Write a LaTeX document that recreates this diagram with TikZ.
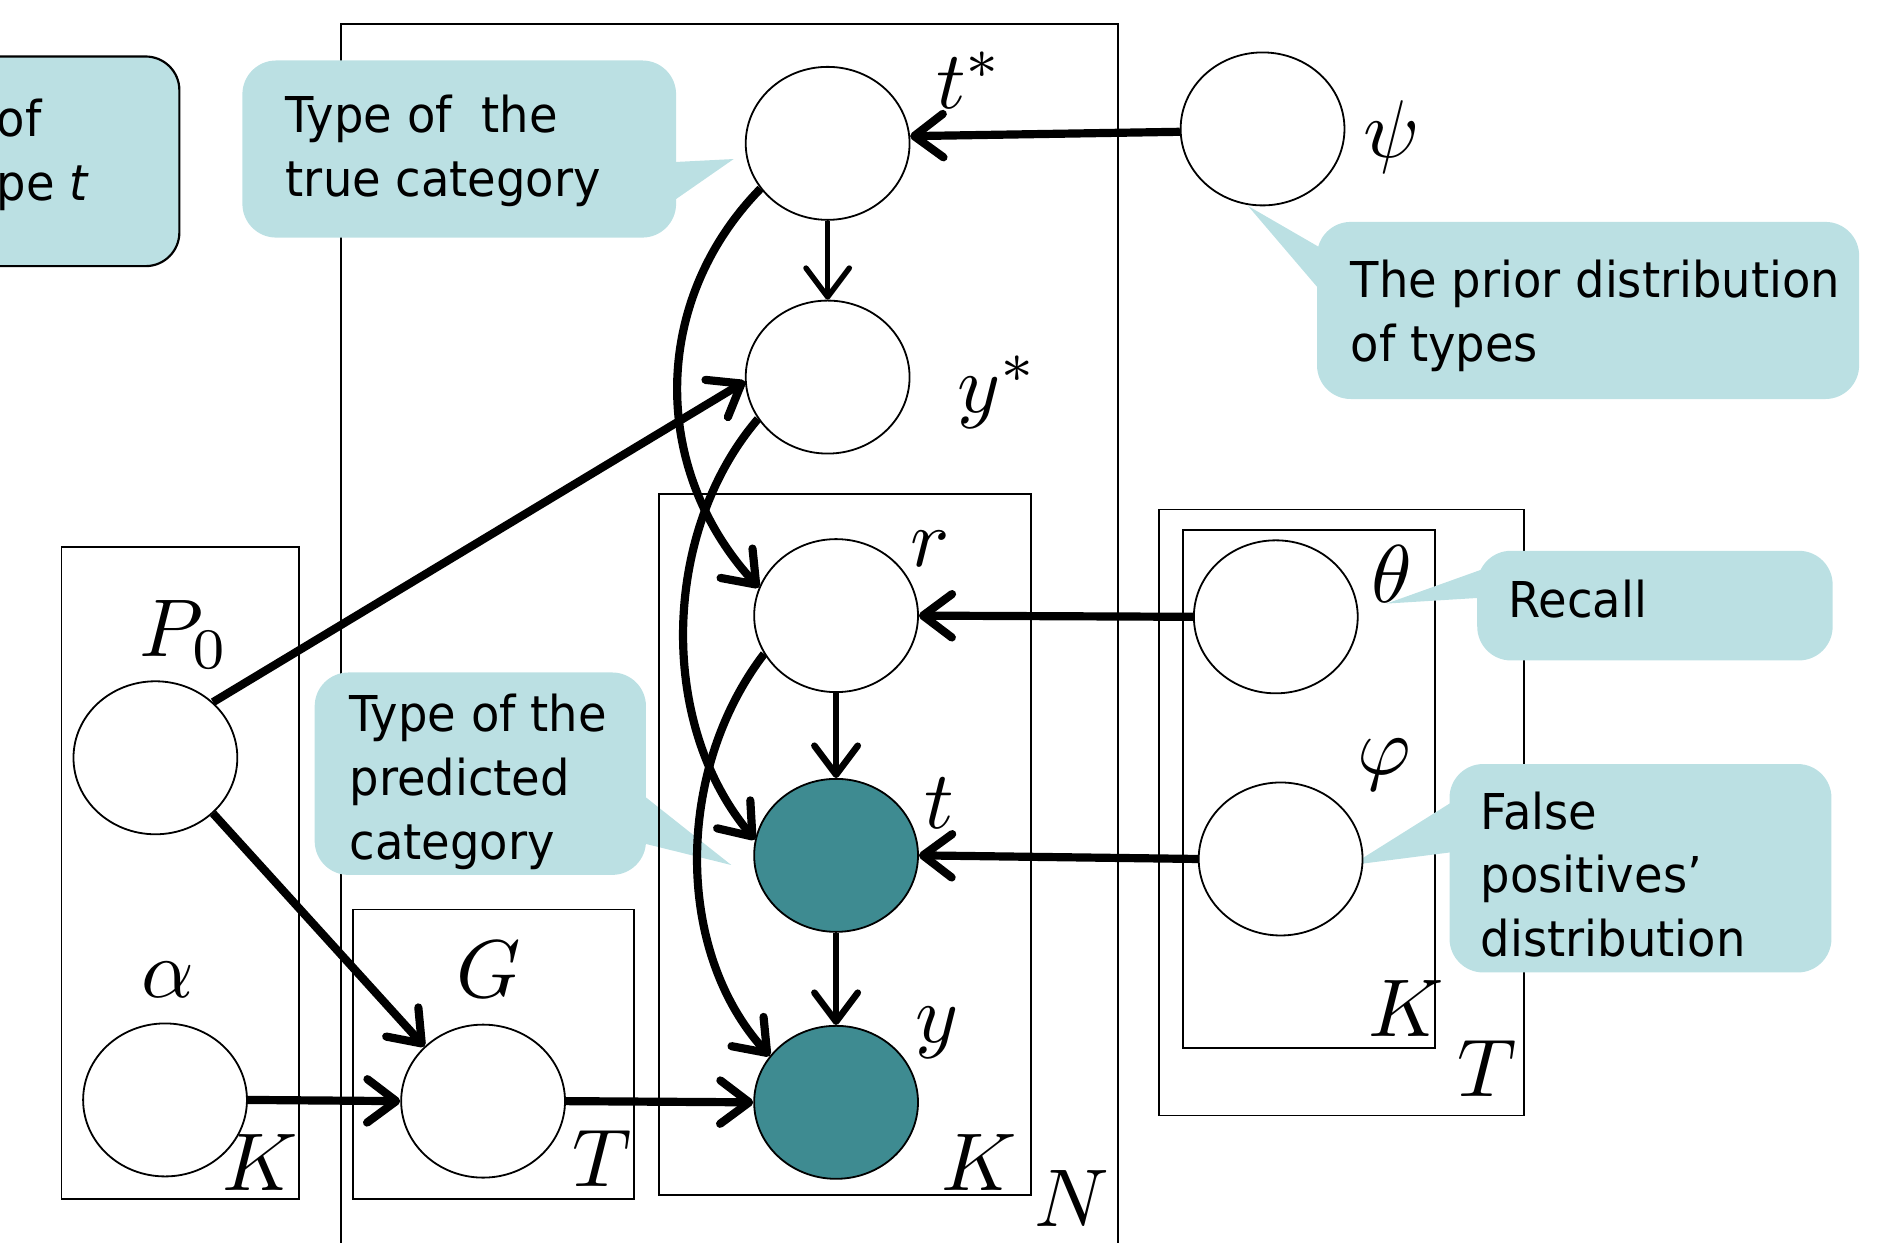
\documentclass[tikz,border=0pt]{standalone}
\usepackage{fontspec}
\setmainfont[FakeStretch=0.94]{DejaVu Sans}
\usetikzlibrary{shapes.geometric,arrows.meta}
\definecolor{callfill}{HTML}{BBE0E3}
\definecolor{obsfill}{HTML}{3E8B91}
\begin{document}
\begin{tikzpicture}[x=1pt,y=-1pt,
  var/.style={ellipse, draw, line width=1.5pt, fill=white,
    minimum width=136pt, minimum height=127pt, inner sep=0pt},
  obs/.style={var, fill=obsfill},
  plate/.style={draw, line width=1.4pt},
  lbl/.style={anchor=base, inner sep=0pt, scale=6.8},
  arr/.style={line width=6.8pt, -{Straight Barb[round,length=24pt,width=36pt]}},
  box/.style={fill=callfill, rounded corners=28pt, inner sep=0pt, anchor=north west},
  ctext/.style={anchor=north west, inner sep=0pt, align=left,
    font=\fontsize{41}{53}\selectfont}]
\clip (0,0) rectangle (1568,1031);

% plates
\draw[plate] (283,20) rectangle (928,1060);
\draw[plate] (51,454) rectangle (248,995);
\draw[plate] (293,755) rectangle (526,995);
\draw[plate] (962,423) rectangle (1265,926);
\draw[plate] (982,440) rectangle (1191,870);

% callouts
\node[box, draw, line width=1.8pt, minimum width=200pt, minimum height=174pt] (cOld) at (-52,46) {};
\node[ctext] (tOld) at (-3,75.9) {\strut of\\\strut pe \textit{t}};

\fill[callfill] (550,135) -- (609,132) -- (550,173) -- cycle;
\node[box, minimum width=360pt, minimum height=147pt] (cTrue) at (201,50) {};
\node[ctext] (tTrue) at (237,72.9) {\strut Type of\ \ the\\\strut true category};

\fill[callfill] (1100,208) -- (1036,171) -- (1100,246) -- cycle;
\node[box, minimum width=450pt, minimum height=147pt] (cPrior) at (1093,184) {};
\node[ctext] (tPrior) at (1121,209.9) {\strut The prior distribution\\\strut of types};

\fill[callfill] (1232,472) -- (1151,501) -- (1232,496) -- cycle;
\node[box, minimum width=295pt, minimum height=91pt] (cRecall) at (1226,457) {};
\node[ctext] (tRecall) at (1252,474.9) {\strut Recall};

\fill[callfill] (530,657) -- (607,718) -- (530,699) -- cycle;
\node[box, minimum width=275pt, minimum height=168pt] (cPred) at (261,558) {};
\node[ctext] (tPred) at (290,569.9) {\strut Type of the\\\strut predicted\\\strut category};

\fill[callfill] (1208,664) -- (1122,718) -- (1208,707) -- cycle;
\node[box, minimum width=317pt, minimum height=173pt] (cFalse) at (1203,634) {};
\node[ctext] (tFalse) at (1229,650.9) {\strut False\\\strut positives’\\\strut distribution};

% inner plate over r, t, y
\draw[plate] (547,410) rectangle (856,992);

% variables
\node[var] (ts) at (687,119) {};
\node[var] (psi) at (1048,107) {};
\node[var] (ys) at (687,313) {};
\node[var] (r) at (694,511) {};
\node[obs] (t) at (694,710) {};
\node[obs] (y) at (694,915) {};
\node[var] (P0) at (129,629) {};
\node[var] (al) at (137,913) {};
\node[var] (G) at (401,914) {};
\node[var] (th) at (1059,512) {};
\node[var] (ph) at (1063,713) {};

% dependencies
\draw[arr] (psi.182) -- (ts.5);
\draw[arr, line width=4.5pt] (ts.south) -- (ys.north);
\draw[arr] (P0.44) -- (ys.183);
\draw[arr] (ts.214) .. controls (540,250) and (540,390) .. (r.160);
\draw[arr] (ys.211) .. controls (550,440) and (545,600) .. (t.169);
\draw[arr] (r.208) .. controls (560,640) and (560,790) .. (y.145);
\draw[arr, line width=5.5pt] (r.south) -- (t.north);
\draw[arr, line width=5.5pt] (t.south) -- (y.north);
\draw[arr] (th.west) -- (r.east);
\draw[arr] (ph.west) -- (t.east);
\draw[arr] (P0.316) -- (G.137);
\draw[arr] (al.east) -- (G.west);
\draw[arr] (G.east) -- (y.west);

% labels
\node[lbl] (lts) at (805,90) {$t^*$};
\node[lbl] (lpsi) at (1155,131) {$\psi$};
\node[lbl] (lys) at (828,342) {$y^*$};
\node[lbl] (lr) at (772,470) {$r$};
\node[lbl] (lt) at (780,688) {$t$};
\node[lbl] (ly) at (778,865) {$y$};
\node[lbl] (lK1) at (813,988) {$K$};
\node[lbl] (lN) at (890,1018) {$N$};
\node[lbl] (lP0) at (153,545) {$P_0$};
\node[lbl] (lal) at (139,828) {$\alpha$};
\node[lbl] (lK2) at (216,988) {$K$};
\node[lbl] (lG) at (406,828) {$G$};
\node[lbl] (lT1) at (500,985) {$T$};
\node[lbl] (lth) at (1155,500) {$\theta$};
\node[lbl] (lph) at (1149,643) {$\varphi$};
\node[lbl] (lK3) at (1167,860) {$K$};
\node[lbl] (lT2) at (1234,910) {$T$};
\end{tikzpicture}
\end{document}
